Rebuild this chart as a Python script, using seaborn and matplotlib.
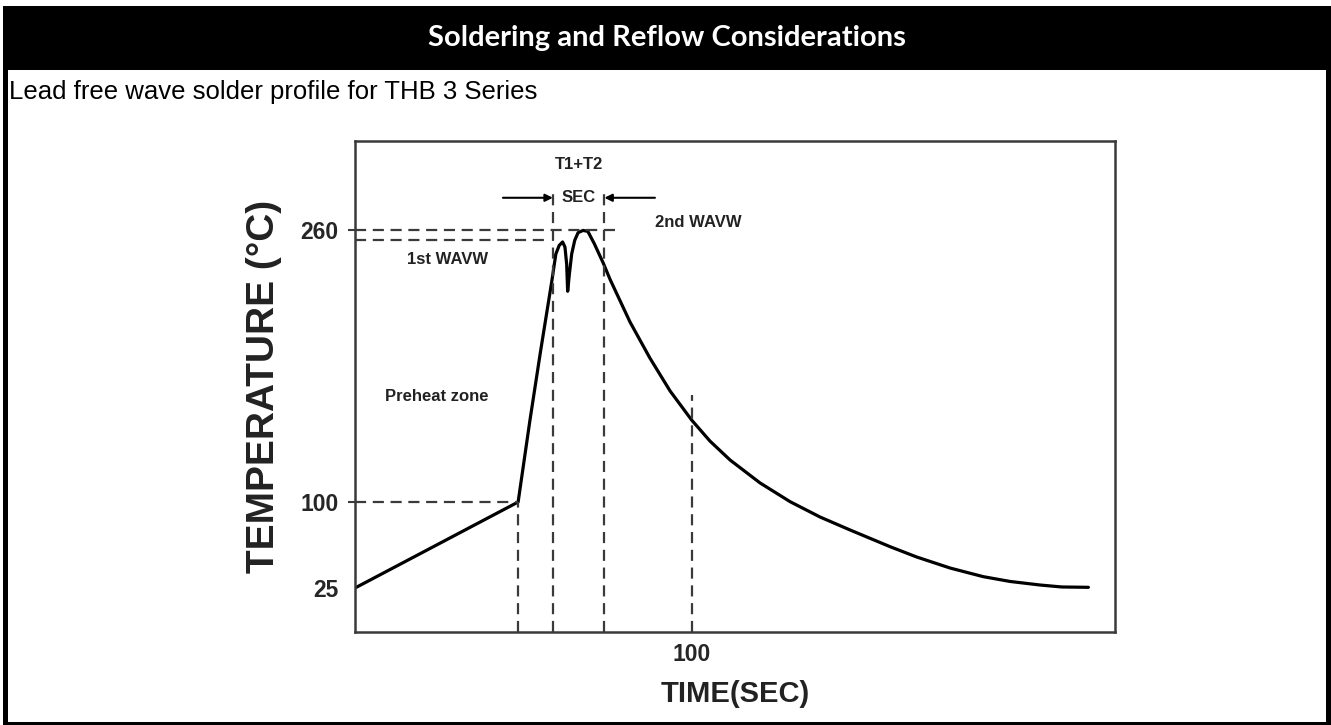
import numpy as np
import matplotlib
matplotlib.use("Agg")
import matplotlib.pyplot as plt
import seaborn as sns
import pandas as pd
from matplotlib.patches import Rectangle

# wave solder profile (time in s, temperature in degC)
time_s = [0, 48.4, 51.9, 55.0, 58.4, 59.6, 60.6, 61.6, 62.3, 62.8, 63.1, 63.6,
          64.3, 65.2, 66.2, 67.7, 69.1, 71.0, 73.7, 75.7, 81.6, 87.5, 93.5,
          99.9, 105.3, 111.3, 120.2, 129.1, 138.0, 146.9, 158.8, 166.7,
          176.6, 186.4, 194.4, 203.3, 209.7, 217.6]
temp_c = [25, 100, 148, 188, 230, 246, 251, 253, 250, 240, 224, 234,
          246, 254, 258.5, 259.8, 259.2, 252, 240.4, 230.9, 205.9, 184.7, 165.3,
          148.2, 135.9, 124.7, 111.2, 100.2, 86.9, 75.6, 61.0, 52.0,
          42.4, 34.9, 30.7, 27.6, 25.9, 25.6]

y_ticks = [25, 100, 260]
x_ticks = [100]
preheat_end_t = 48.4
preheat_end_c = 100
wave_start_t = 58.7
wave_end_t = 74.0
peak_c = 260
peak2_c = 254
ref_t = 100

# the sketch's temperature axis is not linear: piecewise mapping
scale_c = [0, 25, 100, 260, 320]
scale_p = [0, 44, 130, 402, 504]


def fwd(t):
    return np.interp(t, scale_c, scale_p)


def inv(p):
    return np.interp(p, scale_p, scale_c)


sns.set_style("white")
plt.rcParams['font.family'] = ['Liberation Sans', 'DejaVu Sans']

W, H = 1331, 725
fig = plt.figure(figsize=(W / 100, H / 100), dpi=100)
fig.patch.set_facecolor('white')

# page frame + header bar
fig.add_artist(Rectangle((3 / W, 1 - 70 / H), (W - 3) / W, 64 / H,
                         transform=fig.transFigure, color='black', lw=0))
fig.add_artist(Rectangle((3 / W, 0), 5 / W, 1 - 6 / H,
                         transform=fig.transFigure, color='black', lw=0))
fig.add_artist(Rectangle((1326 / W, 0), 5 / W, 1 - 6 / H,
                         transform=fig.transFigure, color='black', lw=0))
fig.add_artist(Rectangle((3 / W, 0), (W - 3) / W, 3 / H,
                         transform=fig.transFigure, color='black', lw=0))
fig.text(667 / W, 1 - 38 / H, "Soldering and Reflow Considerations", color='white',
         family=['Lato', 'DejaVu Sans'], fontweight='bold', fontsize=21,
         ha='center', va='center')
fig.text(9 / W, 1 - 92 / H, "Lead free wave solder profile for THB 3 Series",
         fontsize=18.5, ha='left', va='center', color='black')

ax = fig.add_axes([355 / W, 1 - 632 / H, 760 / W, 491 / H])
ax.set_yscale('function', functions=(fwd, inv))

df = pd.DataFrame({'time': time_s, 'temp': temp_c})
sns.lineplot(data=df, x='time', y='temp', color='black', lw=2.3,
             sort=False, estimator=None, ax=ax)

ax.set_xlim(0, 225.5)
ax.set_ylim(0, 312.4)

dash = dict(colors='#3a3a3a', linestyles=(0, (5, 3)), lw=1.6)
ax.hlines(peak_c, 0, 77.7, **dash)
ax.hlines(peak2_c, 0, 56.9, **dash)
ax.hlines(preheat_end_c, 0, preheat_end_t, **dash)
ax.vlines(preheat_end_t, 0, preheat_end_c, **dash)
ax.vlines([wave_start_t, wave_end_t], 0, 281.8, **dash)
ax.vlines(ref_t, 0, 163, **dash)

arr = dict(arrowstyle='-|>', color='black', lw=1.5, mutation_scale=11,
           shrinkA=0, shrinkB=0)
ax.annotate('', xy=(wave_start_t, 279), xytext=(43.9, 279), arrowprops=arr)
ax.annotate('', xy=(wave_end_t, 279), xytext=(89.0, 279), arrowprops=arr)

tk = dict(fontweight='bold', fontsize=12, color='#222222')
ax.text(66.5, 298.5, "T1+T2", ha='center', va='center', **tk)
ax.text(66.3, 279, "SEC", ha='center', va='center', **tk)
ax.text(89.0, 264.3, "2nd WAVW", ha='left', va='center', **tk)
ax.text(15.3, 242.4, "1st WAVW", ha='left', va='center', **tk)
ax.text(8.9, 161.8, "Preheat zone", ha='left', va='center', **tk)

for s in ax.spines.values():
    s.set_color('#3a3a3a')
    s.set_linewidth(1.8)

ax.set_yticks(y_ticks)
ax.set_yticklabels([str(v) for v in y_ticks], fontweight='bold')
ax.set_xticks(x_ticks)
ax.set_xticklabels([str(v) for v in x_ticks], fontweight='bold')
ax.tick_params(axis='y', length=5, width=1.5, pad=7, color='#3a3a3a',
               labelsize=16.5, left=True)
ax.tick_params(axis='x', length=0, pad=8, labelsize=16.5)
ax.yaxis.get_major_ticks()[0].tick1line.set_visible(False)
ax.yaxis.set_minor_locator(matplotlib.ticker.NullLocator())

ax.set_xlabel("TIME(SEC)", fontsize=21, fontweight='bold', labelpad=10,
              color='#222222')
ax.set_ylabel("TEMPERATURE (°C)", fontsize=28, fontweight='bold', labelpad=13,
              color='#222222')

fig.savefig('out.png', dpi=100)
